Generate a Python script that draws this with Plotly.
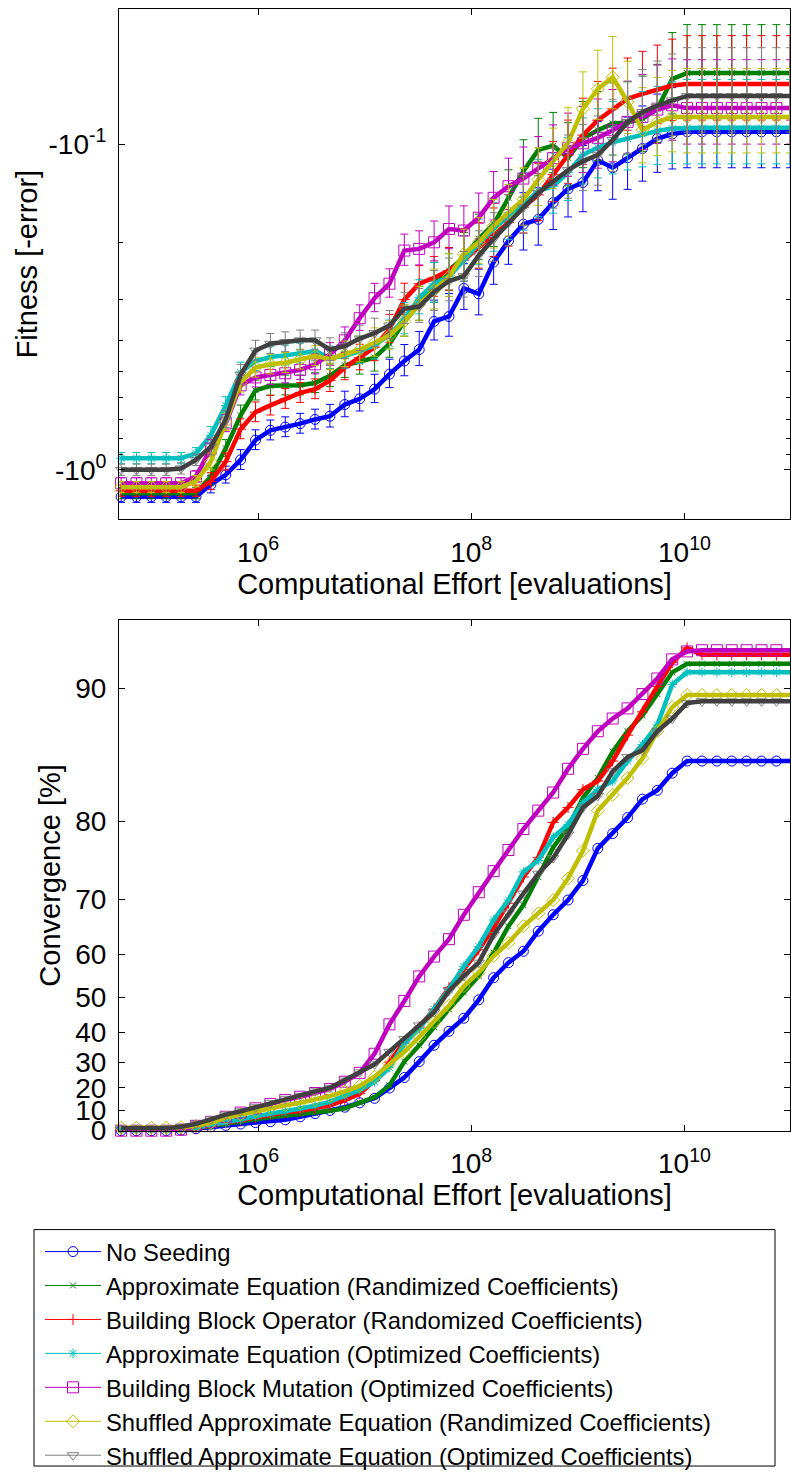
import plotly.graph_objects as go

# ---------------- data ----------------
effort = [5.2e4, 7.24e4, 9.98e4, 1.376e5, 1.898e5, 2.618e5, 3.611e5, 4.98e5, 6.868e5, 9.471e5,
          1.306e6, 1.801e6, 2.484e6, 3.426e6, 4.725e6, 6.516e6, 8.986e6, 1.239e7, 1.709e7, 2.357e7,
          3.251e7, 4.483e7, 6.183e7, 8.527e7, 1.176e8, 1.622e8, 2.236e8, 3.084e8, 4.254e8, 5.866e8,
          8.091e8, 1.116e9, 1.539e9, 2.122e9, 2.927e9, 4.036e9, 5.567e9, 7.678e9, 1.059e10, 1.46e10,
          2.014e10, 2.777e10, 3.83e10, 5.283e10, 7.286e10, 9.8e10]

names = [
    "No Seeding",
    "Approximate Equation (Randimized Coefficients)",
    "Building Block Operator (Randomized Coefficients)",
    "Approximate Equation (Optimized Coefficients)",
    "Building Block Mutation (Optimized Coefficients)",
    "Shuffled Approximate Equation (Randimized Coefficients)",
    "Shuffled Approximate Equation (Optimized Coefficients)",
]

# Fitness (-error), top panel
fit_no_seeding = [-1.21, -1.21, -1.21, -1.21, -1.21, -1.21, -1.11, -1.036, -0.932, -0.81,
                  -0.756, -0.739, -0.721, -0.70, -0.684, -0.63, -0.605, -0.565, -0.508, -0.463,
                  -0.427, -0.35, -0.338, -0.277, -0.288, -0.23, -0.198, -0.176, -0.17, -0.151,
                  -0.137, -0.131, -0.112, -0.118, -0.11, -0.103, -0.096, -0.093, -0.0915, -0.0915,
                  -0.0915, -0.0915, -0.0915, -0.0915, -0.0915, -0.0915]
fit_approx_rand = [-1.18, -1.18, -1.18, -1.18, -1.18, -1.18, -1.048, -0.859, -0.68, -0.57,
                   -0.552, -0.55, -0.55, -0.541, -0.514, -0.477, -0.466, -0.452, -0.41, -0.35,
                   -0.31, -0.268, -0.244, -0.222, -0.195, -0.176, -0.146, -0.121, -0.104, -0.101,
                   -0.11, -0.0959, -0.0905, -0.0863, -0.0857, -0.0834, -0.0778, -0.063, -0.0604, -0.0604,
                   -0.0604, -0.0604, -0.0604, -0.0604, -0.0604, -0.0604]
fit_bbo_rand = [-1.16, -1.16, -1.16, -1.16, -1.16, -1.16, -1.085, -0.944, -0.75, -0.665,
                -0.634, -0.605, -0.58, -0.565, -0.532, -0.485, -0.452, -0.42, -0.37, -0.30,
                -0.268, -0.257, -0.244, -0.227, -0.207, -0.189, -0.174, -0.156, -0.143, -0.124,
                -0.108, -0.0937, -0.0843, -0.0778, -0.0724, -0.070, -0.0679, -0.066, -0.0653, -0.0653,
                -0.0653, -0.0653, -0.0653, -0.0653, -0.0653, -0.0653]
fit_approx_opt = [-0.921, -0.921, -0.921, -0.921, -0.921, -0.89, -0.783, -0.634, -0.502, -0.463,
                  -0.45, -0.445, -0.439, -0.432, -0.453, -0.447, -0.432, -0.415, -0.385, -0.344,
                  -0.296, -0.268, -0.255, -0.227, -0.202, -0.182, -0.166, -0.153, -0.139, -0.1345,
                  -0.122, -0.1077, -0.1023, -0.0986, -0.0959, -0.0931, -0.0909, -0.0894, -0.089, -0.089,
                  -0.089, -0.089, -0.089, -0.089, -0.089, -0.089]
fit_bbm_opt = [-1.10, -1.10, -1.10, -1.10, -1.10, -1.048, -0.859, -0.72, -0.55, -0.52,
               -0.511, -0.505, -0.493, -0.474, -0.442, -0.40, -0.342, -0.297, -0.268, -0.212,
               -0.2095, -0.20, -0.182, -0.184, -0.168, -0.146, -0.1345, -0.1274, -0.1183, -0.1103,
               -0.1028, -0.0993, -0.0955, -0.0905, -0.0853, -0.0824, -0.0782, -0.0759, -0.0774, -0.0774,
               -0.0774, -0.0774, -0.0774, -0.0774, -0.0774, -0.0774]
fit_shuf_rand = [-1.13, -1.13, -1.13, -1.13, -1.13, -1.085, -0.944, -0.713, -0.539, -0.485,
                 -0.474, -0.469, -0.458, -0.447, -0.456, -0.442, -0.427, -0.407, -0.387, -0.35,
                 -0.31, -0.281, -0.255, -0.217, -0.20, -0.178, -0.162, -0.1476, -0.1283, -0.1129,
                 -0.099, -0.0778, -0.0676, -0.0622, -0.0741, -0.0905, -0.0853, -0.0824, -0.0824, -0.0824,
                 -0.0824, -0.0824, -0.0824, -0.0824, -0.0824, -0.0824]
fit_shuf_opt = [-1.0, -1.0, -1.0, -1.0, -0.99, -0.932, -0.849, -0.70, -0.51, -0.43,
                -0.41, -0.405, -0.40, -0.40, -0.427, -0.417, -0.395, -0.38, -0.36, -0.32,
                -0.315, -0.284, -0.263, -0.254, -0.2195, -0.1954, -0.1738, -0.1564, -0.141, -0.1298,
                -0.12, -0.1128, -0.1077, -0.097, -0.0854, -0.0796, -0.076, -0.0733, -0.0711, -0.0711,
                -0.0711, -0.0711, -0.0711, -0.0711, -0.0711, -0.0711]

# relative spread of the fitness error bars (std / |fitness|)
fit_rel_std = [0.04, 0.04, 0.04, 0.04, 0.04, 0.04, 0.06, 0.06, 0.07, 0.07,
               0.07, 0.07, 0.07, 0.07, 0.08, 0.09, 0.09, 0.1, 0.1, 0.11,
               0.12, 0.14, 0.15, 0.16, 0.16, 0.17, 0.18, 0.2, 0.2, 0.21,
               0.22, 0.23, 0.24, 0.25, 0.25, 0.26, 0.27, 0.28, 0.29, 0.29,
               0.29, 0.29, 0.29, 0.29, 0.29, 0.29]

# Convergence [%], bottom panel
conv_no_seeding = [0, 0, 0, 0, 0.3, 1.0, 2.0, 2.7, 3.4, 4.1,
                   4.6, 5.5, 7.0, 8.5, 10.0, 11.5, 13.5, 15.5, 19.9, 24.2,
                   30.2, 35.9, 40.4, 44.3, 49.4, 54.9, 58.3, 60.7, 64.6, 67.5,
                   69.9, 72.8, 77.0, 78.7, 80.4, 82.2, 83.0, 84.45, 85.4, 85.4,
                   85.4, 85.4, 85.4, 85.4, 85.4, 85.4]
conv_approx_rand = [0.5, 0.5, 0.5, 0.5, 0.7, 1.2, 2.4, 3.2, 4.3, 5.7,
                    6.8, 7.5, 8.1, 8.8, 9.8, 11.0, 13.5, 16.0, 21.0, 30.2,
                    35.9, 41.7, 46.9, 51.3, 55.3, 60.4, 65.5, 69.1, 73.3, 77.1,
                    79.4, 82.3, 84.05, 86.1, 87.5, 88.5, 89.7, 90.8, 91.2, 91.2,
                    91.2, 91.2, 91.2, 91.2, 91.2, 91.2]
conv_bbo_rand = [0, 0, 0, 0, 0.3, 1.0, 2.9, 4.0, 5.3, 6.6,
                 8.0, 9.1, 9.7, 10.9, 12.4, 14.7, 17.5, 23.0, 30.0, 37.0,
                 41.7, 46.9, 52.5, 56.8, 61.0, 65.2, 69.4, 73.3, 75.9, 79.9,
                 81.4, 83.06, 83.8, 85.4, 87.24, 88.7, 90.1, 91.25, 91.9, 91.6,
                 91.6, 91.6, 91.6, 91.6, 91.6, 91.6]
conv_approx_opt = [0.5, 0.5, 0.5, 0.5, 0.8, 1.5, 3.0, 4.0, 5.7, 7.3,
                   8.5, 9.6, 10.9, 12.2, 14.0, 16.5, 19.0, 22.5, 28.0, 36.45,
                   41.2, 46.9, 52.1, 57.5, 61.7, 66.6, 69.9, 74.0, 75.5, 78.3,
                   79.7, 81.85, 83.06, 83.8, 85.4, 86.6, 87.9, 90.2, 90.8, 90.8,
                   90.8, 90.8, 90.8, 90.8, 90.8, 90.8]
conv_bbm_opt = [0, 0, 0, 0, 0.5, 2.5, 4.5, 7.0, 9.0, 11.0,
                13.0, 14.8, 16.2, 17.8, 19.5, 22.5, 26.0, 33.0, 42.5, 49.1,
                55.2, 59.6, 63.1, 67.5, 71.1, 74.1, 76.8, 79.2, 81.1, 82.8,
                84.8, 86.3, 87.5, 88.3, 88.9, 89.7, 90.5, 91.4, 91.75, 91.8,
                91.8, 91.8, 91.8, 91.8, 91.8, 91.8]
conv_shuf_rand = [1.5, 1.5, 1.5, 1.5, 1.8, 2.5, 4.0, 6.6, 8.1, 9.6,
                  11.2, 12.4, 13.5, 14.8, 16.5, 18.5, 20.8, 24.5, 29.5, 33.7,
                  38.6, 43.2, 47.8, 52.9, 56.1, 59.7, 62.4, 65.5, 67.75, 69.9,
                  73.1, 76.7, 81.1, 82.6, 84.05, 85.6, 87.5, 88.97, 89.65, 89.65,
                  89.65, 89.65, 89.65, 89.65, 89.65, 89.65]
conv_shuf_opt = [1.2, 1.2, 1.2, 1.2, 2.0, 3.5, 5.7, 8.0, 9.6, 11.5,
                 13.5, 15.3, 16.6, 18.5, 20.0, 23.0, 26.2, 29.2, 33.7, 37.9,
                 42.2, 46.0, 51.7, 55.3, 58.3, 63.9, 67.75, 70.9, 73.75, 75.8,
                 78.6, 81.4, 82.5, 84.6, 85.7, 86.2, 87.5, 88.3, 89.2, 89.3,
                 89.3, 89.3, 89.3, 89.3, 89.3, 89.3]

fitness = [fit_no_seeding, fit_approx_rand, fit_bbo_rand, fit_approx_opt,
           fit_bbm_opt, fit_shuf_rand, fit_shuf_opt]
convergence = [conv_no_seeding, conv_approx_rand, conv_bbo_rand, conv_approx_opt,
               conv_bbm_opt, conv_shuf_rand, conv_shuf_opt]

conv_ticks = [0, 10, 20, 30, 40, 50, 60, 70, 80, 90]
fit_ticks = [0.1, 1.0]
fit_ticktext = ["-10<sup>-1</sup>", "-10<sup>0</sup>"]
fit_minor = [0.2, 0.3, 0.4, 0.5, 0.6, 0.7, 0.8, 0.9]
x_ticks = [1e6, 1e8, 1e10]
x_ticktext = ["10<sup>6</sup>", "10<sup>8</sup>", "10<sup>10</sup>"]

# ---------------- styles ----------------
thin_colors = ["#0000ff", "#008000", "#ff0000", "#00bfbf", "#bf00bf", "#bfbf00", "#7f7f7f"]
thick_colors = ["#0000ff", "#008000", "#ff0000", "#00bfbf", "#bf00bf", "#bfbf00", "#404040"]
symbols = ["circle-open", "x-thin-open", "cross-thin-open", "asterisk-open",
           "square-open", "diamond-open", "triangle-down-open"]
msizes = [10, 6, 8, 8, 11, 10, 10]

FONT = "Liberation Sans, Arial, sans-serif"
W, H = 791, 1484

fig = go.Figure()

for i in range(7):
    err = [-v for v in fitness[i]]
    std = [e * r for e, r in zip(err, fit_rel_std)]
    fig.add_trace(go.Scatter(
        x=effort, y=err, mode="lines+markers", xaxis="x", yaxis="y",
        line=dict(color=thin_colors[i], width=1),
        marker=dict(symbol=symbols[i], size=msizes[i], color=thin_colors[i],
                    line=dict(width=1, color=thin_colors[i])),
        error_y=dict(type="data", array=std, color=thin_colors[i], thickness=1, width=4),
        showlegend=False, cliponaxis=False, name=names[i]))
    fig.add_trace(go.Scatter(
        x=effort, y=err, mode="lines", xaxis="x", yaxis="y",
        line=dict(color=thick_colors[i], width=4.5),
        showlegend=False, name=names[i]))

for i in range(7):
    rem = [100 - v for v in convergence[i]]
    fig.add_trace(go.Scatter(
        x=effort, y=rem, mode="lines+markers", xaxis="x2", yaxis="y2",
        line=dict(color=thin_colors[i], width=1),
        marker=dict(symbol=symbols[i], size=msizes[i], color=thin_colors[i],
                    line=dict(width=1, color=thin_colors[i])),
        showlegend=True, legendgroup="g%d" % i, cliponaxis=False, name=names[i]))
    fig.add_trace(go.Scatter(
        x=effort, y=rem, mode="lines", xaxis="x2", yaxis="y2",
        line=dict(color=thick_colors[i], width=4.5),
        showlegend=False, legendgroup="g%d" % i, name=names[i]))

L, R = 119, 790
top_y0, top_y1 = 9, 525
bot_y0, bot_y1 = 627, 1143

def ydom(a, b):
    return [(H - b) / H, (H - a) / H]

def px_x(p):
    return (p - L) / (R - L)

def px_y(p):
    return (H - p) / H

axis_common = dict(showline=True, linecolor="black", linewidth=1, mirror="ticks",
                   ticks="inside", ticklen=6, tickcolor="black", showgrid=False,
                   zeroline=False, tickfont=dict(family=FONT, size=28, color="black"))

fig.update_layout(
    width=W, height=H, autosize=False,
    margin=dict(l=L, r=W - R, t=0, b=0),
    paper_bgcolor="white", plot_bgcolor="white",
    font=dict(family=FONT, color="black"),
    xaxis=dict(type="log", range=[4.696, 10.99], anchor="y", domain=[0, 1],
               tickvals=x_ticks, ticktext=x_ticktext, ticklabelstandoff=8,
               title=dict(text="Computational Effort [evaluations]",
                          font=dict(family=FONT, size=29), standoff=4),
               **axis_common),
    yaxis=dict(type="log", range=[0.152, -1.416], anchor="x", domain=ydom(top_y0, top_y1),
               tickvals=fit_ticks, ticktext=fit_ticktext, ticklabelstandoff=6,
               minor=dict(tickvals=fit_minor, ticks="inside", ticklen=4, tickcolor="black"),
               title=dict(text="Fitness [-error]", font=dict(family=FONT, size=29), standoff=2),
               **axis_common),
    xaxis2=dict(type="log", range=[4.696, 10.99], anchor="y2", domain=[0, 1],
                tickvals=x_ticks, ticktext=x_ticktext, ticklabelstandoff=8,
                title=dict(text="Computational Effort [evaluations]",
                           font=dict(family=FONT, size=29), standoff=4),
                **axis_common),
    yaxis2=dict(type="log", range=[2.0, 0.846], anchor="x2", domain=ydom(bot_y0, bot_y1),
                tickvals=[100 - v for v in conv_ticks], ticktext=[str(v) for v in conv_ticks],
                ticklabelstandoff=6,
                title=dict(text="Convergence [%]", font=dict(family=FONT, size=29), standoff=6),
                **axis_common),
    legend=dict(x=px_x(40), y=px_y(1243), xanchor="left", yanchor="top",
                bgcolor="rgba(0,0,0,0)", borderwidth=0,
                font=dict(family=FONT, size=23.8, color="black"),
                itemwidth=56, tracegroupgap=0, traceorder="normal"),
    shapes=[dict(type="rect", xref="paper", yref="paper",
                 x0=px_x(34), x1=px_x(775), y0=px_y(1482), y1=px_y(1243),
                 line=dict(color="black", width=1), fillcolor="rgba(0,0,0,0)")],
)

fig.write_html("out.html", config={"displayModeBar": False},
               post_script="document.body.style.margin='0';")
